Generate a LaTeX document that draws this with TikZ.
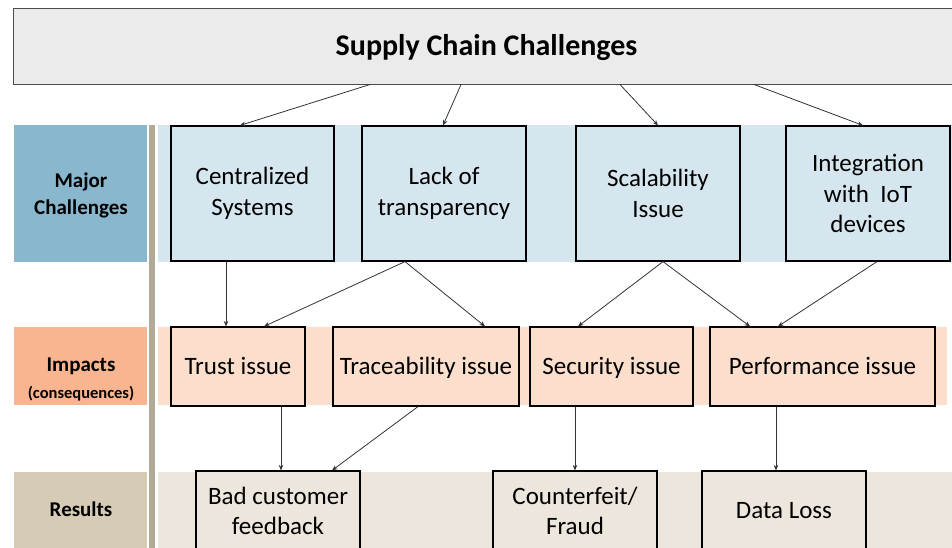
\documentclass[tikz,border=0pt]{standalone}
\usepackage{fontspec}
\setmainfont{Carlito}
\usetikzlibrary{arrows.meta}
\definecolor{majorlbl}{RGB}{136,183,206}
\definecolor{majorband}{RGB}{214,230,239}
\definecolor{implbl}{RGB}{248,181,144}
\definecolor{impband}{RGB}{252,222,205}
\definecolor{reslbl}{RGB}{214,204,181}
\definecolor{resband}{RGB}{236,230,220}
\definecolor{sepbar}{RGB}{176,170,150}
\definecolor{titlefill}{RGB}{235,235,235}
\tikzset{
  box/.style={draw=black, line width=1.2pt, inner sep=0pt, align=center, font=\fontsize{25}{30.5}\selectfont},
  mbox/.style={box, fill=majorband, minimum width=164pt, minimum height=135pt},
  ibox/.style={box, fill=impband, minimum height=79pt, text height=19pt, text depth=3pt},
  rbox/.style={box, fill=resband, minimum width=164pt, minimum height=80pt},
  lbl/.style={align=center, font=\bfseries\fontsize{21}{27}\selectfont},
  arr/.style={draw=black!80, line width=0.8pt, -{Stealth[length=5.5pt,width=4.5pt]}},
}
\begin{document}
\begin{tikzpicture}[x=1pt,y=-1pt]
\useasboundingbox (0,0) rectangle (952,547);
\clip (0,0) rectangle (952,547);
% title
\node[draw=black!70, line width=1pt, fill=titlefill, minimum width=947pt, minimum height=76pt, inner sep=0pt, text height=22pt, text depth=4pt, font=\bfseries\fontsize{30}{34}\selectfont] (title) at (486.5,46) {Supply Chain Challenges};
% label column
\fill[majorlbl] (14,125) rectangle (147,262);
\fill[implbl] (14,327) rectangle (147,405);
\fill[reslbl] (14,472) rectangle (147,560);
\node[lbl] (lmaj) at (81,195) {Major\\Challenges};
\node[lbl, align=center] (limp) at (81,379) {Impacts\\[0pt]{\fontsize{16.5}{20}\selectfont (consequences)}};
\node[lbl] (lres) at (81,509) {Results};
% separator bar
\fill[sepbar] (149,125) rectangle (155,560);
% bands
\fill[majorband] (158,125) rectangle (952,262);
\fill[impband] (158,327) rectangle (947,405);
\fill[resband] (158,472) rectangle (952,560);
% major challenges
\node[mbox, minimum width=163pt] (cent) at (252.5,193.5) {Centralized\\Systems};
\node[mbox] (lack) at (444,193.5) {Lack of\\transparency};
\node[mbox] (scal) at (658,193.5) {Scalability\\Issue};
\node[mbox] (iot) at (868,193.5) {Integration\\with\ \ IoT\\devices};
% impacts
\node[ibox, minimum width=134pt] (trust) at (238,366.5) {Trust issue};
\node[ibox, minimum width=186pt] (trace) at (426,366.5) {Traceability issue};
\node[ibox, minimum width=163pt] (secu) at (611.5,366.5) {Security issue};
\node[ibox, minimum width=225pt] (perf) at (822.5,366.5) {Performance issue};
% results
\node[rbox] (bad) at (278,511) {Bad customer\\feedback};
\node[rbox] (fraud) at (575,511) {Counterfeit/\\Fraud};
\node[rbox] (loss) at (784,511) {Data Loss};
% arrows
\draw[arr] (370,0 |- title.south) -- (240,0 |- cent.north);
\draw[arr] (461,0 |- title.south) -- (443,0 |- lack.north);
\draw[arr] (620,0 |- title.south) -- (658,0 |- scal.north);
\draw[arr] (754,0 |- title.south) -- (863,0 |- iot.north);
\draw[arr] (226,0 |- cent.south) -- (226,0 |- trust.north);
\draw[arr] (405,0 |- lack.south) -- (264,0 |- trust.north);
\draw[arr] (405,0 |- lack.south) -- (485,0 |- trace.north);
\draw[arr] (663,0 |- scal.south) -- (578,0 |- secu.north);
\draw[arr] (663,0 |- scal.south) -- (750,0 |- perf.north);
\draw[arr] (877,0 |- iot.south) -- (778,0 |- perf.north);
\draw[arr] (281,0 |- trust.south) -- (281,0 |- bad.north);
\draw[arr] (418,0 |- trace.south) -- (332,0 |- bad.north);
\draw[arr] (575,0 |- secu.south) -- (575,0 |- fraud.north);
\draw[arr] (776,0 |- perf.south) -- (776,0 |- loss.north);
\end{tikzpicture}
\end{document}
